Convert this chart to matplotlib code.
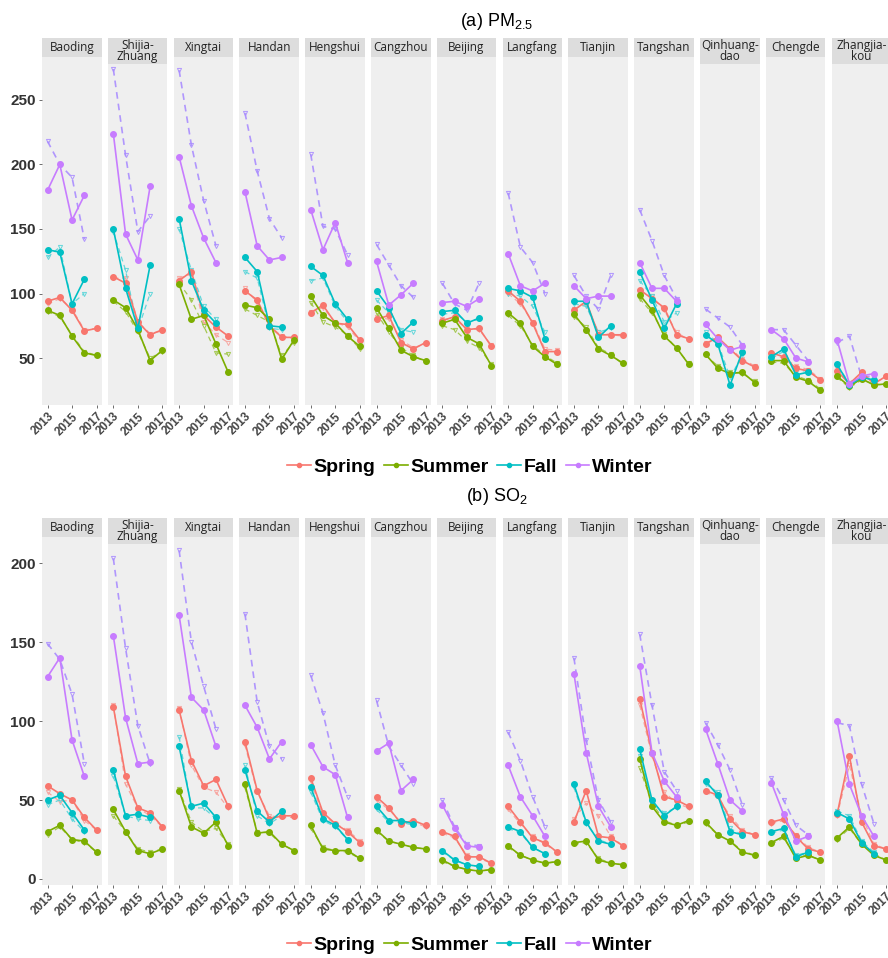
import matplotlib
matplotlib.use("Agg")
import matplotlib.pyplot as plt
from matplotlib.lines import Line2D

plt.rcParams['font.family'] = ['Liberation Sans', 'DejaVu Sans']
plt.rcParams['mathtext.fontset'] = 'custom'
plt.rcParams['mathtext.rm'] = 'Liberation Sans'

cities = ["Baoding", "Shijia-\nZhuang", "Xingtai", "Handan", "Hengshui", "Cangzhou",
          "Beijing", "Langfang", "Tianjin", "Tangshan", "Qinhuang-\ndao", "Chengde",
          "Zhangjia-\nkou"]
years5 = [2013, 2014, 2015, 2016, 2017]
years4 = [2013, 2014, 2015, 2016]
seasons = ["Spring", "Summer", "Fall", "Winter"]
colors = ["#F8766D", "#7CAE00", "#00BFC4", "#C77CFF"]
dash_colors = ["#F8A09A", "#9CC440", "#55D4D8", "#A98CFF"]

# ---- (a) PM2.5, solid series ----
pm_spring = [[94, 97, 87, 71, 73], [113, 108, 78, 68, 72], [110, 117, 83, 74, 67],
             [102, 95, 75, 66, 66], [85, 91, 77, 76, 64], [80, 83, 62, 57, 62],
             [79, 82, 72, 73, 59], [102, 94, 77, 55, 55], [87, 94, 68, 68, 68],
             [103, 96, 89, 68, 65], [61, 66, 57, 48, 43], [54, 51, 42, 40, 33],
             [40, 30, 39, 30, 36]]
pm_summer = [[87, 83, 67, 54, 52], [95, 89, 72, 48, 56], [107, 80, 83, 61, 39],
             [91, 89, 80, 49, 64], [98, 83, 77, 67, 59], [89, 73, 56, 51, 48],
             [77, 80, 66, 61, 44], [85, 77, 59, 51, 45], [84, 72, 57, 52, 46],
             [99, 87, 67, 58, 45], [53, 42, 38, 39, 31], [48, 48, 35, 32, 25],
             [36, 28, 34, 29, 30]]
pm_fall = [[134, 132, 92, 111], [150, 104, 73, 122], [158, 110, 87, 77],
           [128, 117, 75, 74], [121, 114, 92, 80], [102, 89, 69, 78],
           [86, 87, 77, 81], [104, 102, 97, 65], [94, 94, 66, 75],
           [117, 95, 73, 92], [68, 61, 29, 55], [51, 57, 37, 39], [45, 29, 35, 33]]
pm_winter = [[180, 200, 157, 176], [224, 146, 126, 183], [206, 168, 143, 124],
             [179, 137, 126, 128], [165, 134, 155, 124], [125, 91, 99, 108],
             [93, 94, 90, 96], [131, 106, 102, 108], [106, 96, 98, 98],
             [124, 104, 104, 94], [76, 65, 56, 59], [72, 65, 50, 47], [64, 30, 36, 38]]

# ---- (a) PM2.5, dashed series ----
pm_spring_dash = [[92, 96, 88, 72, 73], [112, 112, 78, 69, 71], [112, 115, 78, 68, 62],
                  [104, 93, 75, 67, 65], [86, 89, 78, 74, 63], [82, 80, 64, 58, 61],
                  [80, 80, 73, 72, 60], [100, 92, 78, 57, 56], [88, 92, 70, 68, 67],
                  [101, 98, 87, 70, 64], [62, 64, 58, 49, 44], [52, 50, 44, 41, 34],
                  [42, 31, 38, 31, 35]]
pm_summer_dash = [[86, 82, 68, 55, 52], [94, 86, 70, 50, 55], [108, 95, 75, 54, 53],
                  [88, 83, 78, 52, 62], [93, 78, 74, 68, 57], [85, 70, 58, 52, 47],
                  [75, 72, 63, 58, 45], [83, 75, 60, 52, 46], [82, 74, 58, 53, 45],
                  [96, 85, 69, 57, 46], [52, 44, 39, 38, 32], [47, 46, 36, 33, 26],
                  [35, 27, 33, 30, 29]]
pm_fall_dash = [[128, 136, 92, 100], [148, 118, 72, 100], [150, 118, 90, 80],
                [117, 112, 73, 72], [110, 112, 90, 78], [95, 85, 72, 70],
                [84, 85, 78, 80], [100, 98, 90, 70], [92, 90, 70, 73],
                [110, 98, 78, 85], [70, 62, 35, 52], [50, 55, 40, 40], [44, 31, 35, 34]]
pm_winter_dash = [[218, 200, 190, 142], [274, 207, 148, 160], [273, 215, 172, 137],
                  [240, 195, 158, 143], [208, 152, 150, 130], [138, 122, 106, 97],
                  [108, 92, 87, 108], [178, 136, 124, 100], [114, 98, 88, 114],
                  [165, 141, 114, 96], [88, 81, 74, 60], [72, 72, 60, 48], [62, 67, 35, 36]]

# ---- (b) SO2, solid series ----
so_spring = [[59, 54, 50, 39, 31], [109, 65, 45, 42, 33], [107, 75, 59, 63, 46],
             [87, 56, 38, 40, 40], [64, 42, 35, 30, 23], [52, 45, 35, 37, 34],
             [30, 27, 14, 14, 10], [46, 36, 26, 23, 17], [36, 56, 27, 26, 21],
             [114, 80, 52, 50, 46], [56, 53, 38, 30, 28], [36, 38, 27, 19, 17],
             [41, 78, 36, 21, 19]]
so_summer = [[30, 34, 25, 24, 17], [44, 30, 18, 16, 19], [56, 33, 29, 36, 21],
             [60, 29, 30, 22, 18], [34, 19, 18, 18, 13], [31, 24, 22, 20, 19],
             [12, 8, 6, 5, 6], [21, 15, 12, 10, 11], [23, 24, 12, 10, 9],
             [76, 46, 36, 34, 37], [36, 28, 24, 17, 15], [23, 27, 13, 15, 12],
             [26, 33, 22, 15, 12]]
so_fall = [[50, 53, 42, 31], [69, 40, 41, 39], [84, 46, 48, 39], [69, 43, 36, 43],
           [58, 38, 34, 25], [46, 37, 37, 35], [18, 12, 9, 8], [33, 30, 20, 16],
           [60, 36, 24, 22], [82, 50, 40, 46], [62, 53, 30, 28], [30, 32, 14, 17],
           [42, 38, 23, 16]]
so_winter = [[128, 140, 88, 65], [154, 102, 73, 74], [167, 115, 107, 84],
             [110, 96, 76, 87], [85, 71, 66, 39], [81, 86, 56, 63], [47, 32, 21, 20],
             [72, 52, 40, 27], [130, 80, 46, 33], [135, 80, 62, 52], [95, 73, 50, 43],
             [61, 41, 24, 27], [100, 60, 40, 27]]

# ---- (b) SO2, dashed series ----
so_spring_dash = [[55, 49, 50, 37, 31], [110, 60, 45, 40, 33], [108, 72, 58, 55, 45],
                  [85, 55, 40, 39, 39], [62, 40, 35, 31, 24], [50, 44, 36, 36, 33],
                  [29, 26, 15, 13, 10], [44, 35, 27, 22, 17], [38, 48, 40, 27, 21],
                  [110, 78, 55, 48, 45], [55, 52, 40, 31, 28], [35, 37, 28, 20, 17],
                  [40, 72, 40, 22, 19]]
so_summer_dash = [[28, 33, 25, 23, 17], [40, 30, 19, 17, 19], [57, 36, 30, 32, 22],
                  [58, 30, 29, 22, 18], [32, 20, 18, 17, 13], [30, 24, 22, 20, 19],
                  [11, 8, 6, 5, 6], [20, 15, 12, 10, 11], [22, 23, 13, 10, 9],
                  [70, 48, 37, 34, 36], [35, 28, 24, 18, 15], [22, 26, 14, 15, 12],
                  [25, 32, 22, 16, 12]]
so_fall_dash = [[47, 50, 38, 30], [65, 40, 38, 37], [90, 45, 45, 38], [72, 40, 35, 40],
                [55, 37, 33, 25], [44, 36, 36, 34], [17, 12, 9, 8], [32, 29, 20, 16],
                [58, 35, 25, 22], [78, 48, 42, 45], [60, 55, 32, 28], [29, 31, 15, 17],
                [43, 40, 24, 17]]
so_winter_dash = [[149, 139, 117, 73], [203, 146, 97, 73], [208, 150, 122, 95],
                  [168, 112, 84, 76], [129, 105, 72, 52], [113, 84, 72, 60],
                  [50, 33, 22, 21], [93, 75, 52, 33], [140, 88, 50, 36],
                  [155, 110, 68, 56], [99, 85, 69, 47], [64, 50, 34, 28], [99, 97, 60, 35]]

pm_yticks = [50, 100, 150, 200, 250]
so_yticks = [0, 50, 100, 150, 200]
xticks = [2013, 2015, 2017]

W, H = 888, 958
fig = plt.figure(figsize=(W / 100, H / 100), dpi=100)


def rect(left, top, w, h):
    return [left / W, 1 - (top + h) / H, w / W, h / H]


def draw_block(strip_top, panel_top, panel_bottom, ylim, yticks, data, dashed,
               title, title_y, legend_y):
    pitch, pw, left0 = 65.8, 59.5, 42
    for i, city in enumerate(cities):
        left = left0 + i * pitch
        ax = fig.add_axes(rect(left, panel_top, pw, panel_bottom - panel_top))
        ax.set_facecolor("#EFEFEF")
        for s in ax.spines.values():
            s.set_visible(False)
        ax.set_xlim(2012.55, 2017.4)
        ax.set_ylim(*ylim)
        ax.set_xticks(xticks)
        ax.set_xticklabels([str(t) for t in xticks], rotation=45, ha="right",
                           rotation_mode="anchor", fontsize=8.5, fontweight="bold",
                           color="#444444")
        ax.tick_params(axis="x", length=2.5, width=0.6, color="#555555", pad=1.5)
        if i == 0:
            ax.set_yticks(yticks)
            ax.set_yticklabels([str(t) for t in yticks], fontsize=11,
                               fontweight="bold", color="#333333")
            ax.tick_params(axis="y", length=2.5, width=0.6, color="#555555", pad=2)
        else:
            ax.set_yticks([])
        for k, (series, col) in enumerate(zip(dashed, dash_colors)):
            yrs = years5 if len(series[i]) == 5 else years4
            lw = 1.2 if k == 3 else 0.9
            ax.plot(yrs, series[i], color=col, lw=lw, ls=(0, (4, 3)),
                    marker="v", ms=3, mfc="none", mew=0.7, alpha=0.9, zorder=2)
        for k, (series, col) in enumerate(zip(data, colors)):
            yrs = years5 if len(series[i]) == 5 else years4
            ax.plot(yrs, series[i], color=col, lw=1.2, marker="o", ms=4,
                    mec=col, zorder=3 + k * 0.1)
        two = "\n" in city
        sh = (panel_top - strip_top) + (7 if two else 0)
        sax = fig.add_axes(rect(left, strip_top, pw, sh))
        sax.set_facecolor("#DDDDDD")
        sax.set_xticks([])
        sax.set_yticks([])
        for s in sax.spines.values():
            s.set_visible(False)
        sax.text(0.5, 0.5, city, ha="center", va="center", fontsize=8.5,
                 family="Open Sans", color="#222222", linespacing=0.8,
                 transform=sax.transAxes)
    fig.text(497 / W, 1 - title_y / H, title, ha="center", va="center", fontsize=13)
    handles = [Line2D([0], [0], color=c, lw=1.2, marker="o", ms=3) for c in colors]
    fig.legend(handles, seasons, loc="center", bbox_to_anchor=(470 / W, 1 - legend_y / H),
               ncol=4, frameon=False, handlelength=1.2, handletextpad=0.15,
               columnspacing=0.45, prop={"weight": "bold", "size": 14})


draw_block(38, 57, 405, (13.6, 283.3), pm_yticks,
           [pm_spring, pm_summer, pm_fall, pm_winter],
           [pm_spring_dash, pm_summer_dash, pm_fall_dash, pm_winter_dash],
           r"(a) PM$_{2.5}$", 21, 467)
draw_block(518, 537, 885, (-3.8, 216.5), so_yticks,
           [so_spring, so_summer, so_fall, so_winter],
           [so_spring_dash, so_summer_dash, so_fall_dash, so_winter_dash],
           r"(b) SO$_{2}$", 497, 945)

fig.savefig("out.png", dpi=100)
